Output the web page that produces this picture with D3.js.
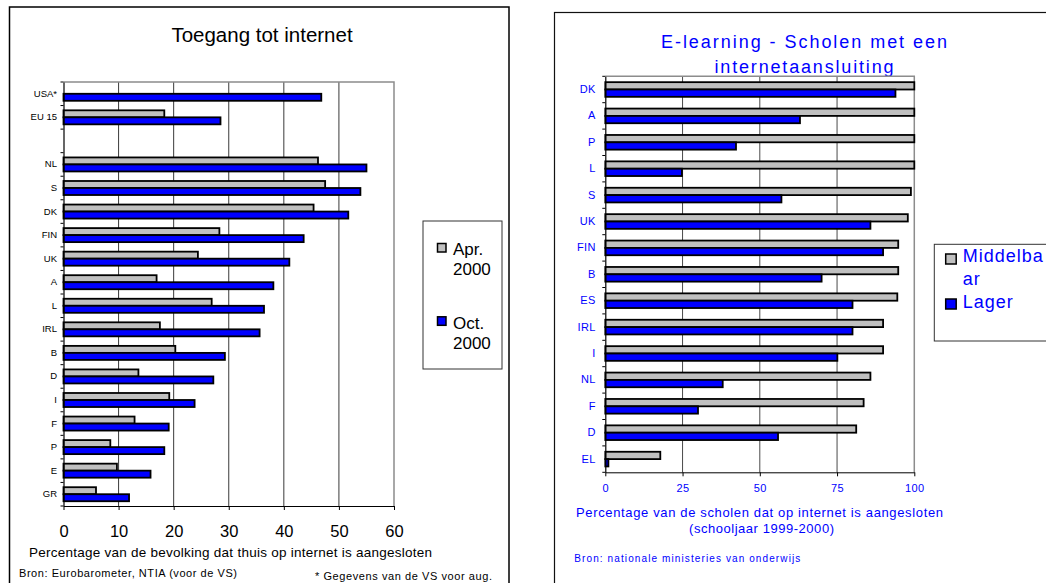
<!DOCTYPE html>
<html>
<head>
<meta charset="utf-8">
<script src="https://cdn.jsdelivr.net/npm/d3@7"></script>
<style>
  body { margin: 0; background: #fff; }
  svg { display: block; font-family: "Liberation Sans", Arial, sans-serif; }
</style>
</head>
<body>
<div id="chart"></div>
<script>
// Left chart: Toegang tot internet (% of households)
const accessCountries = ["USA*", "EU 15", "", "NL", "S", "DK", "FIN", "UK", "A", "L", "IRL", "B", "D", "I", "F", "P", "E", "GR"];
const accessApr = [null, 18.3, null, 46.2, 47.5, 45.4, 28.3, 24.4, 16.9, 26.9, 17.5, 20.3, 13.6, 19.2, 12.9, 8.5, 9.7, 5.9];
const accessOct = [46.8, 28.5, null, 55.0, 53.9, 51.7, 43.6, 41.0, 38.1, 36.4, 35.6, 29.3, 27.2, 23.8, 19.1, 18.3, 15.8, 11.9];
const accessTicks = [0, 10, 20, 30, 40, 50, 60];
const accessLegend = [["Apr.", "2000"], ["Oct.", "2000"]];

// Right chart: E-learning (% of schools)
const schoolCountries = ["DK", "A", "P", "L", "S", "UK", "FIN", "B", "ES", "IRL", "I", "NL", "F", "D", "EL"];
const schoolSecondary = [100, 100, 100, 100, 98.9, 97.9, 94.8, 94.8, 94.5, 89.9, 89.9, 85.8, 83.6, 81.2, 17.8];
const schoolPrimary = [93.9, 63.0, 42.3, 24.8, 57.0, 85.8, 89.9, 70.0, 80.0, 80.0, 75.1, 38.0, 30.0, 55.9, 1.0];
const schoolTicks = [0, 25, 50, 75, 100];
const schoolLegend = [["Middelba", "ar"], ["Lager"]];

const GREY = "#c0c0c0";
const BLUE = "#0000ff";

const W = 1046, H = 583;
const svg = d3.select("#chart").append("svg")
  .attr("width", W).attr("height", H);

function drawBars(cfg) {
  const g = svg.append("g");
  const x = d3.scaleLinear()
    .domain([0, cfg.ticks[cfg.ticks.length - 1]])
    .range([cfg.left, cfg.right]);
  const y = d3.scaleBand()
    .domain(cfg.categories)
    .range([cfg.top, cfg.bottom]);
  const ySub = d3.scaleBand()
    .domain([0, 1])
    .range([0, y.bandwidth()])
    .paddingOuter(cfg.subPad);

  // gridlines
  g.selectAll(".grid")
    .data(cfg.ticks.slice(1, -1))
    .join("line")
    .attr("x1", d => x(d)).attr("x2", d => x(d))
    .attr("y1", cfg.top).attr("y2", cfg.bottom)
    .attr("stroke", cfg.gridColor).attr("stroke-width", 1);

  // top + right frame
  g.append("path")
    .attr("d", `M${cfg.left},${cfg.top}H${cfg.right}V${cfg.bottom}`)
    .attr("fill", "none")
    .attr("stroke", "#8c8c8c")
    .attr("stroke-width", 1.5);

  // bars
  [cfg.seriesA, cfg.seriesB].forEach((vals, s) => {
    g.selectAll(null)
      .data(cfg.categories.map((c, i) => ({ c, v: vals[i] })).filter(d => d.v != null))
      .join("rect")
      .attr("x", x(0))
      .attr("y", d => y(d.c) + ySub(s))
      .attr("width", d => x(d.v) - x(0))
      .attr("height", ySub.bandwidth())
      .attr("fill", s === 0 ? GREY : BLUE)
      .attr("stroke", "#000")
      .attr("stroke-width", 1.8);
  });

  // x axis
  const xAxis = g.append("g")
    .attr("transform", `translate(0,${cfg.bottom})`)
    .call(d3.axisBottom(x).tickValues(cfg.ticks).tickSize(4).tickSizeOuter(0).tickPadding(cfg.xPad));
  xAxis.select(".domain").attr("stroke", "#000");
  xAxis.selectAll("text")
    .attr("fill", cfg.textColor)
    .style("font-size", cfg.xFont + "px")
    .style("letter-spacing", cfg.xSpacing + "px")
    .style("font-family", "Liberation Sans, Arial, sans-serif");

  // y axis labels
  const yAxis = g.append("g")
    .attr("transform", `translate(${cfg.left},0)`)
    .call(d3.axisLeft(y).tickSize(0).tickSizeOuter(0).tickPadding(cfg.yPad));
  yAxis.select(".domain").attr("stroke", "#000").attr("stroke-width", 1.2);
  yAxis.selectAll("text")
    .attr("fill", cfg.textColor)
    .style("font-size", cfg.yFont + "px")
    .style("letter-spacing", cfg.ySpacing + "px")
    .style("font-family", "Liberation Sans, Arial, sans-serif");

  // boundary ticks between bands
  const edges = cfg.categories.map(c => y(c)).concat([cfg.bottom]);
  g.selectAll(null)
    .data(edges)
    .join("line")
    .attr("x1", cfg.left - 3).attr("x2", cfg.left)
    .attr("y1", d => d).attr("y2", d => d)
    .attr("stroke", "#000");
}

function drawLegend(items, cfg) {
  const g = svg.append("g");
  g.append("rect")
    .attr("x", cfg.x).attr("y", cfg.y)
    .attr("width", cfg.w).attr("height", cfg.h)
    .attr("fill", "#fff").attr("stroke", "#333").attr("stroke-width", 1);
  items.forEach((lines, i) => {
    g.append("rect")
      .attr("x", cfg.sx).attr("y", cfg.sy[i])
      .attr("width", cfg.sw).attr("height", cfg.sh)
      .attr("fill", i === 0 ? GREY : BLUE)
      .attr("stroke", "#000").attr("stroke-width", 1.5);
    lines.forEach((t, j) => {
      g.append("text")
        .attr("x", cfg.tx).attr("y", cfg.ty[i] + j * cfg.lineH)
        .attr("fill", cfg.color)
        .style("font-size", cfg.font + "px")
        .style("letter-spacing", cfg.spacing + "px")
        .text(t);
    });
  });
}

// ---------- panel frames ----------
svg.append("rect")
  .attr("x", 9.5).attr("y", 7).attr("width", 499.5).attr("height", 600)
  .attr("fill", "none").attr("stroke", "#000").attr("stroke-width", 1.5);
svg.append("rect")
  .attr("x", 554.5).attr("y", 12.5).attr("width", 520).attr("height", 600)
  .attr("fill", "none").attr("stroke", "#111").attr("stroke-width", 1.2);

// ---------- left chart ----------
svg.append("text")
  .attr("x", 262).attr("y", 42).attr("text-anchor", "middle")
  .style("font-size", "20.5px")
  .text("Toegang tot internet");

drawBars({
  categories: accessCountries, seriesA: accessApr, seriesB: accessOct, ticks: accessTicks,
  left: 63.5, right: 394, top: 82, bottom: 506, subPad: 0.68,
  gridColor: "#3a3a3a", textColor: "#000",
  xFont: 16.5, xSpacing: 0, xPad: 15, yFont: 9.5, ySpacing: 0, yPad: 6.5
});

svg.append("text")
  .attr("x", 230.5).attr("y", 556.5).attr("text-anchor", "middle")
  .attr("textLength", 403)
  .style("font-size", "13.5px")
  .text("Percentage van de bevolking dat thuis op internet is aangesloten");
svg.append("text")
  .attr("x", 19).attr("y", 576.5)
  .attr("textLength", 218)
  .style("font-size", "11px")
  .text("Bron: Eurobarometer, NTIA (voor de VS)");
svg.append("text")
  .attr("x", 315).attr("y", 580)
  .attr("textLength", 177)
  .style("font-size", "11px")
  .text("* Gegevens van de VS voor aug.");

drawLegend(accessLegend, {
  x: 423, y: 221, w: 79, h: 148,
  sx: 437.5, sy: [243.5, 316.8], sw: 8.5, sh: 8.5,
  tx: 453, ty: [255, 329], lineH: 19.5,
  font: 17, spacing: 0, color: "#000"
});

// ---------- right chart ----------
[["E-learning - Scholen met een", 47.7, 286], ["internetaansluiting", 72.7, 179]].forEach(([t, yy, len]) => {
  svg.append("text")
    .attr("x", 804).attr("y", yy).attr("text-anchor", "middle")
    .attr("fill", BLUE)
    .attr("textLength", len)
    .style("font-size", "18px")
    .text(t);
});

drawBars({
  categories: schoolCountries, seriesA: schoolSecondary, seriesB: schoolPrimary, ticks: schoolTicks,
  left: 605.3, right: 914.3, top: 76.3, bottom: 472.3, subPad: 0.8,
  gridColor: "#4a4a4a", textColor: BLUE,
  xFont: 11, xSpacing: 0.4, xPad: 7.7, yFont: 11, ySpacing: 0.4, yPad: 9.5
});

svg.append("text")
  .attr("x", 759.5).attr("y", 516.5).attr("text-anchor", "middle")
  .attr("fill", BLUE).attr("textLength", 367)
  .style("font-size", "13px")
  .text("Percentage van de scholen dat op internet is aangesloten");
svg.append("text")
  .attr("x", 761.5).attr("y", 532.5).attr("text-anchor", "middle")
  .attr("fill", BLUE).attr("textLength", 145)
  .style("font-size", "13px")
  .text("(schooljaar 1999-2000)");
svg.append("text")
  .attr("x", 574.3).attr("y", 561.5)
  .attr("fill", BLUE).attr("textLength", 226)
  .style("font-size", "10px")
  .text("Bron: nationale ministeries van onderwijs");

drawLegend(schoolLegend, {
  x: 934.3, y: 244.3, w: 130, h: 96.7,
  sx: 945.7, sy: [254, 299], sw: 10.5, sh: 10,
  tx: 962.7, ty: [261.7, 307.7], lineH: 23.3,
  font: 18, spacing: 1, color: BLUE
});
</script>
</body>
</html>
